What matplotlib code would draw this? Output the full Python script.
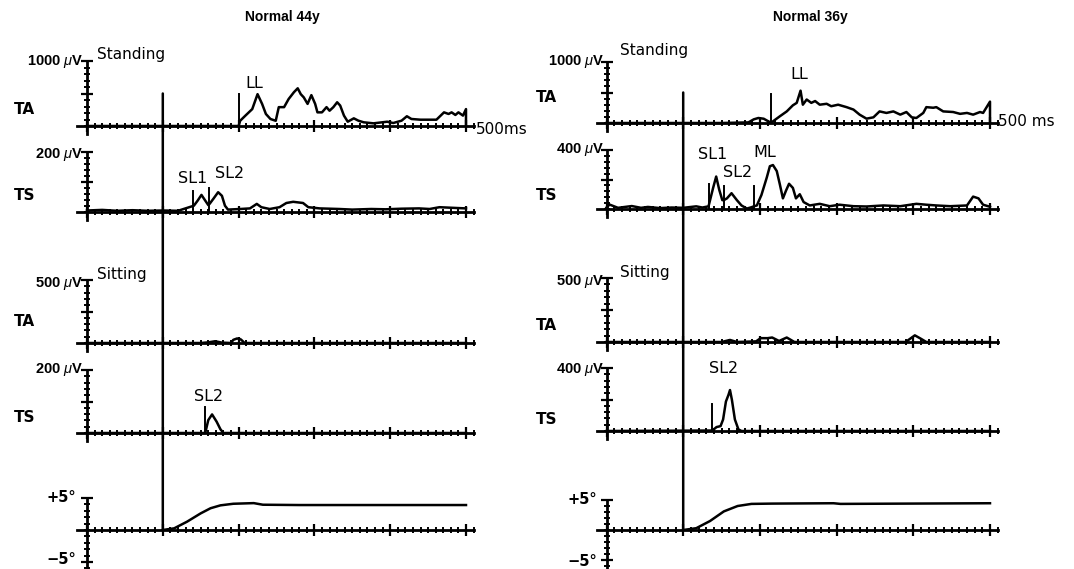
import numpy as np
import matplotlib
matplotlib.use("Agg")
import matplotlib.pyplot as plt
from matplotlib.patches import ConnectionPatch

plt.rcParams['font.family'] = ['DejaVu Sans']
plt.rcParams['mathtext.fontset'] = 'custom'
plt.rcParams['mathtext.rm'] = 'Liberation Sans'
plt.rcParams['mathtext.it'] = 'Liberation Sans:italic'

# ---------------- data (time in ms, EMG in microvolts, angle in degrees) ----
titles = ["Normal 44y", "Normal 36y"]
stim_t = 100

# Left subject (44y)
L_ta_st_t = [0, 200, 202, 209, 218, 225, 231, 236, 242, 249, 253, 260, 266, 273, 278, 282, 286, 291,
             296, 301, 304, 310, 316, 320, 325, 330, 334, 339, 344, 352, 358, 365, 378, 396, 404,
             415, 422, 428, 440, 461, 471, 477, 481, 486, 490, 496, 500, 500]
L_ta_st_v = [0, 0, 80, 160, 260, 490, 340, 185, 108, 80, 290, 290, 415, 520, 580, 490, 440, 340,
             475, 340, 210, 210, 290, 235, 290, 365, 315, 160, 66, 118, 82, 57, 41, 66, 46,
             82, 150, 108, 97, 97, 210, 185, 210, 170, 210, 160, 260, 0]
L_ts_st_t = [0, 20, 40, 60, 80, 100, 120, 141, 146, 151, 156, 160, 162, 167, 173, 178, 182, 186,
             202, 215, 224, 230, 241, 254, 263, 272, 285, 292, 307, 333, 350, 375, 394, 415, 438,
             452, 465, 482, 500]
L_ts_st_v = [5, 7, 4, 6, 4, 5, 4, 21, 38, 57, 38, 23, 28, 45, 66, 54, 21, 8,
             10, 12, 27, 16, 10, 16, 30, 34, 30, 16, 12, 10, 8, 10, 9, 11, 12,
             10, 16, 14, 12]
L_ta_si_t = [0, 150, 160, 169, 178, 190, 193, 198, 203, 208, 300, 500]
L_ta_si_v = [0, 0, 5, 14, 3, 0, 25, 36, 28, 0, 0, 0]
L_ts_si_t = [0, 156, 160, 165, 171, 176, 180, 500]
L_ts_si_v = [0, 0, 41, 59, 36, 12, 0, 0]
L_ang_t = [100, 115, 132, 150, 163, 176, 193, 220, 232, 280, 500]
L_ang_v = [0, 0.26, 1.3, 2.6, 3.4, 3.85, 4.1, 4.2, 3.95, 3.9, 3.9]

# Right subject (36y)
R_ta_st_t = [0, 150, 185, 192, 198, 205, 212, 215, 217, 226, 235, 243, 248, 253, 256, 261, 267, 272,
             278, 287, 293, 302, 313, 322, 330, 339, 348, 356, 365, 374, 383, 391, 398, 404, 413,
             417, 426, 430, 439, 452, 461, 470, 478, 487, 491, 500, 500]
R_ta_st_v = [0, 0, 10, 60, 82, 70, 20, 15, 27, 110, 190, 290, 330, 530, 300, 385, 330, 360,
             300, 315, 275, 300, 260, 220, 137, 71, 93, 190, 165, 190, 137, 180, 93, 82, 165,
             260, 250, 260, 190, 180, 150, 165, 137, 180, 165, 350, 0]
R_ts_st_t = [0, 4, 15, 33, 45, 54, 70, 85, 100, 117, 125, 133, 139, 143, 147, 151, 153, 157, 163,
             170, 176, 183, 189, 192, 196, 202, 209, 213, 217, 222, 226, 230, 234, 238, 243, 247,
             252, 257, 265, 278, 291, 304, 322, 339, 361, 383, 404, 417, 430, 448, 470, 478, 485,
             491, 500]
R_ts_st_v = [10, 30, 8, 20, 8, 14, 6, 10, 8, 18, 10, 18, 143, 220, 130, 60, 60, 72, 107,
             60, 24, 3, 12, 18, 24, 95, 214, 290, 298, 257, 167, 72, 124, 171, 143, 72,
             100, 47, 24, 35, 19, 29, 19, 17, 24, 19, 35, 29, 24, 19, 24, 84, 72,
             29, 15]
R_ta_si_t = [0, 150, 161, 170, 195, 201, 210, 216, 225, 235, 245, 390, 402, 410, 417, 500]
R_ta_si_v = [0, 0, 16, 0, 5, 30, 30, 35, 8, 35, 0, 0, 52, 25, 0, 0]
R_ts_si_t = [0, 138, 143.5, 148.7, 152, 155.7, 159, 161, 163.5, 167.4, 172, 176, 500]
R_ts_si_v = [0, 3, 25, 31, 73, 187, 229, 260, 198, 73, 10, 0, 0]
R_ang_t = [100, 117, 135, 153, 171, 189, 216, 296, 305, 500]
R_ang_v = [0, 0.3, 1.5, 3.1, 4.0, 4.35, 4.4, 4.46, 4.35, 4.46]

# full-scale of each row (left, right)
scales_L = [1000, 200, 500, 200, 5]
scales_R = [1000, 400, 500, 400, 5]
scale_labels_L = ["1000 $\\mu$V", "200 $\\mu$V", "500 $\\mu$V", "200 $\\mu$V", "+5°"]
scale_labels_R = ["1000 $\\mu$V", "400 $\\mu$V", "500 $\\mu$V", "400 $\\mu$V", "+5°"]
muscle_labels = ["TA", "TS", "TA", "TS", None]

# latency markers: (row, time, height, label, label_t, label_v)
markers_L = [(0, 200, 490, "LL", 220, 650),
             (1, 140, 71, "SL1", 140, 112),
             (1, 161, 79, "SL2", 188, 129),
             (3, 156, 83, "SL2", 161, 115)]
markers_R = [(0, 215, 470, "LL", 251, 787),
             (1, 133, 167, "SL1", 138, 367),
             (1, 153, 155, "SL2", 171, 247),
             (1, 192, 155, "ML", 206, 380),
             (3, 138, 171, "SL2", 152, 398)]

# ---------------- layout (pixel geometry of the original figure) -------------
W, H = 1074, 569
fig = plt.figure(figsize=(W / 100, H / 100), dpi=100)

cols = [
    dict(x0=87, sx=0.758,
         rows=[(126, 61), (212, 152), (343, 280), (433, 370), (530, 498)],
         traces=[(L_ta_st_t, L_ta_st_v), (L_ts_st_t, L_ts_st_v), (L_ta_si_t, L_ta_si_v),
                 (L_ts_si_t, L_ts_si_v), (L_ang_t, L_ang_v)],
         scales=scales_L, slabels=scale_labels_L, markers=markers_L, title=titles[0],
         title_x=282, lab_x=14, sclab_x=83, cond_x=97, ms_label="500ms", ms_x=476, ms_y=129,
         text_y=[(62, 109), (155, 196), (283, 322), (369, 418), (498, None)],
         stand_y=55, sit_y=274, m5_y=560, deg_x=76),
    dict(x0=606.5, sx=0.767,
         rows=[(123, 62), (209, 150), (342, 278), (431, 368), (530, 500)],
         traces=[(R_ta_st_t, R_ta_st_v), (R_ts_st_t, R_ts_st_v), (R_ta_si_t, R_ta_si_v),
                 (R_ts_si_t, R_ts_si_v), (R_ang_t, R_ang_v)],
         scales=scales_R, slabels=scale_labels_R, markers=markers_R, title=titles[1],
         title_x=810, lab_x=536, sclab_x=604, cond_x=620, ms_label="500 ms", ms_x=998, ms_y=121,
         text_y=[(62, 97), (150, 195), (282, 325), (370, 419), (500, None)],
         stand_y=51, sit_y=272, m5_y=562, deg_x=597),
]

LW = 1.8
FS = 11


def fx(x):
    return x / W


def fy(y):
    return 1 - y / H


for col in cols:
    axes = []
    for r, ((base, full), F, (tt, vv)) in enumerate(zip(col["rows"], col["scales"], col["traces"])):
        pxu = (base - full) / F
        lo = -7.5 if r == 4 else -0.2 * F
        hi = 1.1 * F
        xl, xr = -15, 520
        left_px = col["x0"] + xl * col["sx"]
        right_px = col["x0"] + xr * col["sx"]
        bottom_px = base - lo * pxu
        top_px = base - hi * pxu
        ax = fig.add_axes([fx(left_px), fy(bottom_px), (right_px - left_px) / W,
                           (bottom_px - top_px) / H])
        ax.set_xlim(xl, xr)
        ax.set_ylim(lo, hi)
        ax.patch.set_alpha(0)
        for s in ("top", "right"):
            ax.spines[s].set_visible(False)
        ax.spines["left"].set_position(("data", 0))
        ax.spines["bottom"].set_position(("data", 0))
        ax.spines["bottom"].set_bounds(-13, 510)
        if r == 4:
            ax.spines["left"].set_bounds(-7.5, F)
        else:
            ax.spines["left"].set_bounds(-0.13 * F, F)
        for s in ("left", "bottom"):
            ax.spines[s].set_linewidth(2.0)
        ax.set_xticks(np.arange(0, 501, 100))
        ax.set_xticks(np.arange(0, 511, 10), minor=True)
        if r == 4:
            ax.set_yticks([-5, 5])
            ax.set_yticks(np.arange(-7, 6, 1), minor=True)
        else:
            ax.set_yticks([F / 2, F])
            ax.set_yticks(np.arange(0, F + 1e-9, F / 10), minor=True)
        ax.tick_params(which="major", direction="inout", length=9, width=1.6,
                       labelbottom=False, labelleft=False)
        ax.tick_params(which="minor", direction="inout", length=4.5, width=1.4)
        ax.plot(tt, vv, color="black", lw=LW, clip_on=False, solid_joinstyle="round")
        axes.append(ax)

    # latency markers and labels
    for (r, t, h, lab, lt, lv) in col["markers"]:
        axes[r].plot([t, t], [0, h], color="black", lw=1.4, clip_on=False)
        axes[r].text(lt, lv, lab, ha="center", va="center", fontsize=FS + 0.5, clip_on=False)

    # stimulus line from top row down to the angle trace
    con = ConnectionPatch(xyA=(stim_t, col["scales"][0] / 2), coordsA=axes[0].transData,
                          xyB=(stim_t, 0), coordsB=axes[4].transData,
                          color="black", lw=1.8)
    fig.add_artist(con)

    # texts
    fig.text(fx(col["title_x"]), fy(17), col["title"], ha="center", va="center",
             fontsize=10, fontweight="bold", family="Liberation Sans")
    for r, (sy, my) in enumerate(col["text_y"]):
        if r == 4:
            fig.text(fx(col["deg_x"]), fy(sy), col["slabels"][r], ha="right", va="center",
                     fontsize=FS - 0.5, fontweight="bold")
        else:
            fig.text(fx(col["sclab_x"]), fy(sy), col["slabels"][r], ha="right", va="center",
                     fontsize=10.5, fontweight="bold", family="Liberation Sans")
            fig.text(fx(col["lab_x"]), fy(my), muscle_labels[r], ha="left", va="center",
                     fontsize=FS, fontweight="bold")
    fig.text(fx(col["deg_x"]), fy(col["m5_y"]), "\u22125°", ha="right", va="center",
             fontsize=FS - 0.5, fontweight="bold")
    fig.text(fx(col["cond_x"]), fy(col["stand_y"]), "Standing", ha="left", va="center",
             fontsize=FS)
    fig.text(fx(col["cond_x"]), fy(col["sit_y"]), "Sitting", ha="left", va="center",
             fontsize=FS)
    fig.text(fx(col["ms_x"]), fy(col["ms_y"]), col["ms_label"], ha="left", va="center",
             fontsize=FS)

fig.savefig("out.png", dpi=100, facecolor="white")
